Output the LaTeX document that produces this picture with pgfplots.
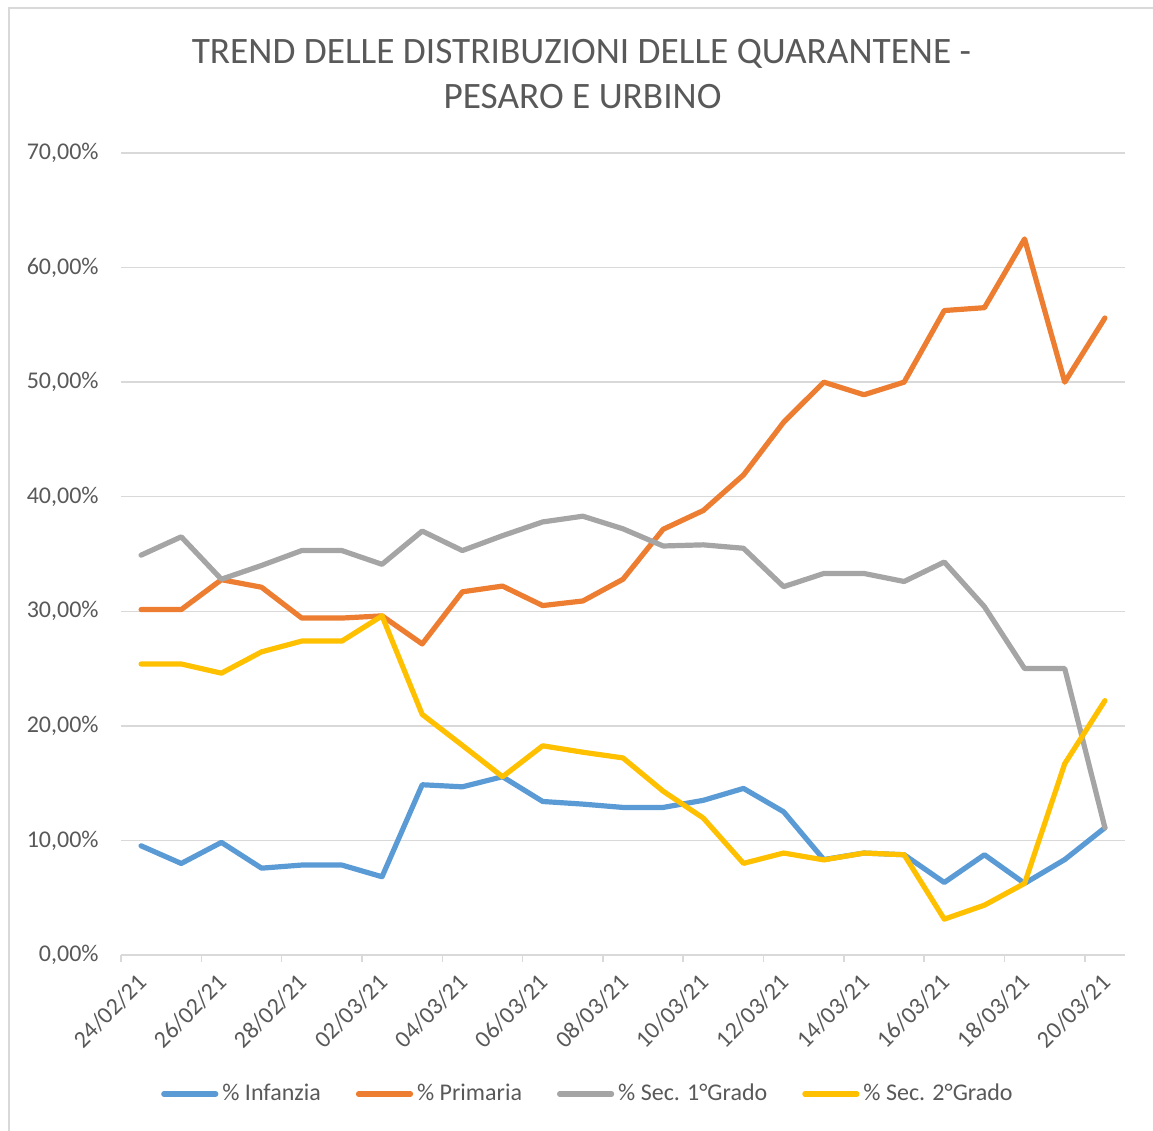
\documentclass[border=0pt]{standalone}
\usepackage{pgfplots}
\pgfplotsset{compat=1.18}
\usepackage{fontspec}
\setmainfont{Carlito}
\definecolor{txt}{HTML}{595959}
\definecolor{gridgray}{HTML}{D9D9D9}
\definecolor{cblue}{HTML}{5B9BD5}
\definecolor{corange}{HTML}{ED7D31}
\definecolor{cgray}{HTML}{A5A5A5}
\definecolor{cyellow}{HTML}{FFC000}
\begin{document}
\begin{tikzpicture}
\useasboundingbox (-60.5pt,-88pt) rectangle (516pt,477.5pt);
\draw[gridgray, line width=1pt] (-56pt,-88pt) -- (-56pt,473.5pt) -- (516pt,473.5pt);
\begin{axis}[
  at={(0pt,0pt)}, anchor=south west,
  scale only axis, width=502pt, height=401pt,
  xmin=-0.5, xmax=24.5, ymin=0, ymax=70,
  axis lines*=left,
  x axis line style={draw=gridgray, line width=0.75pt},
  y axis line style={draw=none},
  ymajorgrids, grid style={gridgray, line width=0.75pt},
  ytick={0,10,...,70},
  yticklabels={{0,00\%},{10,00\%},{20,00\%},{30,00\%},{40,00\%},{50,00\%},{60,00\%},{70,00\%}},
  ytick style={draw=none},
  yticklabel style={font=\fontsize{12}{14}\selectfont, text=txt, inner sep=0pt, anchor=east, xshift=-11pt},
  xtick={0,2,...,24},
  xticklabels={24/02/21,26/02/21,28/02/21,02/03/21,04/03/21,06/03/21,08/03/21,10/03/21,12/03/21,14/03/21,16/03/21,18/03/21,20/03/21},
  xtick style={draw=none},
  xticklabel style={font=\fontsize{12}{14}\selectfont, text=txt, inner sep=0pt, xshift=-2.5pt, yshift=-8.5pt, rotate=45, anchor=north east},
  extra x ticks={-0.5,1.5,...,23.5},
  extra x tick labels={},
  extra x tick style={xtick style={draw=gridgray, line width=0.75pt}, tick align=outside, major tick length=3.5pt, grid=none},
  every axis plot/.append style={line width=2.6pt, line cap=round, line join=round},
  legend columns=4,
  legend style={draw=none, fill=none, at={(0.466,-0.1733)}, anchor=center,
    font=\fontsize{12}{14}\selectfont, text=txt,
    /tikz/every even column/.append style={column sep=15.5pt},
    /tikz/every odd column/.append style={column sep=0pt}},
  legend image code/.code={\draw[#1, line cap=round] (0pt,0pt) -- (26pt,0pt);},
  clip=false,
]
\addplot[cblue] coordinates {(0,9.53)(1,7.99)(2,9.83)(3,7.58)(4,7.85)(5,7.85)(6,6.83)(7,14.86)(8,14.68)(9,15.56)(10,13.4)(11,13.17)(12,12.88)(13,12.88)(14,13.5)(15,14.54)(16,12.5)(17,8.33)(18,8.9)(19,8.75)(20,6.33)(21,8.75)(22,6.25)(23,8.33)(24,11.11)};
\addlegendentry{\% Infanzia}
\addplot[corange] coordinates {(0,30.15)(1,30.15)(2,32.76)(3,32.1)(4,29.41)(5,29.41)(6,29.6)(7,27.15)(8,31.7)(9,32.2)(10,30.5)(11,30.9)(12,32.8)(13,37.16)(14,38.8)(15,41.9)(16,46.5)(17,50.0)(18,48.9)(19,50.0)(20,56.25)(21,56.5)(22,62.5)(23,50.0)(24,55.6)};
\addlegendentry{\% Primaria}
\addplot[cgray] coordinates {(0,34.9)(1,36.5)(2,32.8)(3,34.0)(4,35.3)(5,35.3)(6,34.1)(7,37.0)(8,35.3)(9,36.6)(10,37.8)(11,38.3)(12,37.2)(13,35.7)(14,35.8)(15,35.5)(16,32.15)(17,33.3)(18,33.3)(19,32.6)(20,34.3)(21,30.4)(22,25.0)(23,25.0)(24,11.11)};
\addlegendentry{\% Sec. 1°Grado}
\addplot[cyellow] coordinates {(0,25.4)(1,25.4)(2,24.6)(3,26.46)(4,27.4)(5,27.4)(6,29.6)(7,21.0)(8,18.3)(9,15.56)(10,18.26)(11,17.7)(12,17.2)(13,14.3)(14,11.95)(15,8.0)(16,8.9)(17,8.3)(18,8.9)(19,8.75)(20,3.13)(21,4.35)(22,6.25)(23,16.7)(24,22.2)};
\addlegendentry{\% Sec. 2°Grado}
\end{axis}
\node[anchor=base, text=txt, font=\fontsize{18.65}{22}\selectfont] at (230.25pt,445.5pt) {TREND DELLE DISTRIBUZIONI DELLE QUARANTENE -};
\node[anchor=base, text=txt, font=\fontsize{18.65}{22}\selectfont] at (230.75pt,423pt) {PESARO E URBINO};
\end{tikzpicture}
\end{document}
